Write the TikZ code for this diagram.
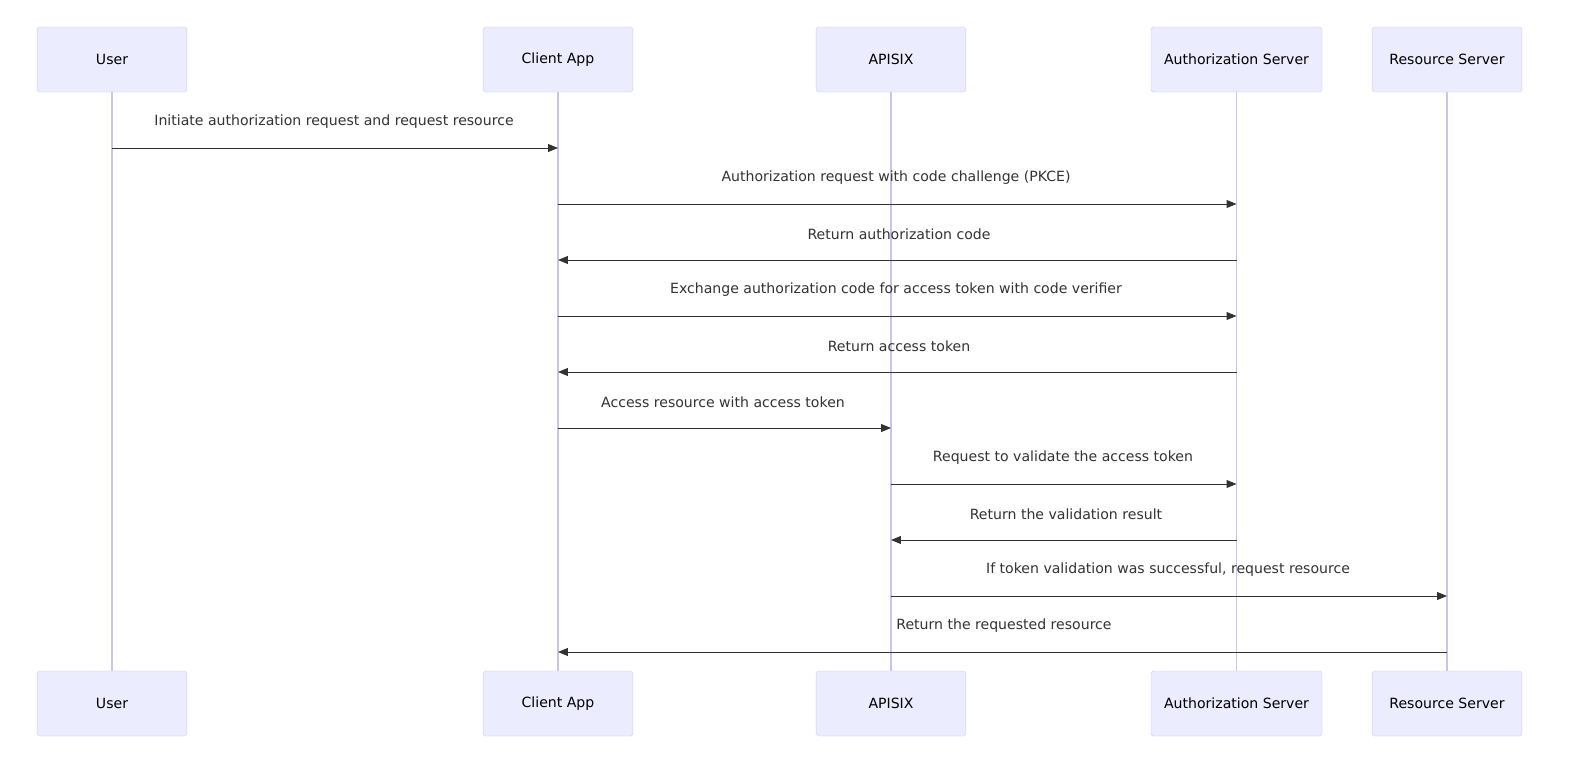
\documentclass[tikz,border=0pt]{standalone}
\usepackage{fontspec}
\setmainfont{DejaVu Sans}
\usetikzlibrary{arrows.meta}
\definecolor{boxfill}{HTML}{ECECFF}
\definecolor{boxline}{HTML}{CCCCEE}
\definecolor{life}{HTML}{C8C4EC}
\definecolor{msg}{HTML}{333333}
\begin{document}
\begin{tikzpicture}[x=1.0088pt,y=-1.0088pt,
  actor/.style={draw=boxline,fill=boxfill,rounded corners=2pt,minimum height=65.6pt,inner sep=0pt,font=\fontsize{14.2}{16}\selectfont},
  lifeline/.style={draw=life,line width=1.3pt},
  msgline/.style={draw=msg,line width=1pt,-{Triangle[length=10pt,width=8pt]}},
  lbl/.style={font=\fontsize{14.2}{16}\selectfont,text=msg}]
\useasboundingbox (0,0) rectangle (1581,769);
\foreach \n/\t/\x/\w in {u/User/112/151, c/Client App/558/151, a/APISIX/891/151, s/Authorization Server/1236.5/172.5, r/Resource Server/1447/151}{
  \coordinate (\n) at (\x,0);
  \draw[lifeline] (\x,92) -- (\x,671);
  \node[actor,minimum width=\w pt] (\n t) at (\x,59.5) {\t};
  \node[actor,minimum width=\w pt] (\n b) at (\x,703.5) {\t};
}
\foreach \f/\g/\y/\t/\lx in {
 u/c/148/Initiate authorization request and request resource/334,
 c/s/204/Authorization request with code challenge (PKCE)/896,
 s/c/260/Return authorization code/899,
 c/s/316/Exchange authorization code for access token with code verifier/896,
 s/c/372/Return access token/899,
 c/a/428/Access resource with access token/723,
 a/s/484/Request to validate the access token/1063,
 s/a/540/Return the validation result/1066,
 a/r/596/{If token validation was successful, request resource}/1168,
 r/c/652/Return the requested resource/1004}{
  \coordinate (p1) at (\f |- 0,\y);
  \coordinate (p2) at (\g |- 0,\y);
  \draw[msgline] (p1) -- (p2);
  \node[lbl] at (\lx,\y-26) {\t};
}
\end{tikzpicture}
\end{document}
